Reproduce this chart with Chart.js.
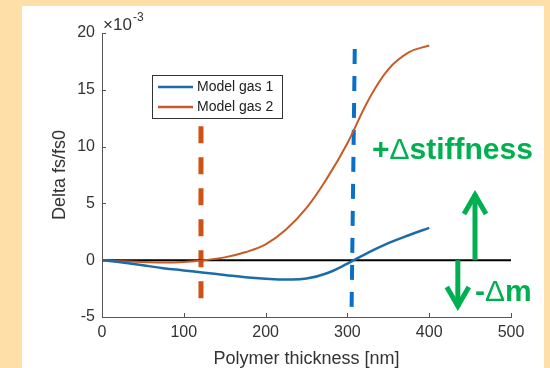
<!DOCTYPE html>
<html>
<head>
<meta charset="utf-8">
<script src="https://cdn.jsdelivr.net/npm/chart.js@4.4.1/dist/chart.umd.min.js"></script>
<style>
  html, body { margin: 0; padding: 0; background: #fedfa8; overflow: hidden; }
  #panel { position: absolute; left: 22px; top: 6px; width: 522px; height: 362px; background: #fff; }
  #wrap { position: absolute; left: 0; top: 0; width: 550px; height: 368px; }
</style>
</head>
<body>
<div id="panel"></div>
<div id="wrap"><canvas id="chart" width="550" height="368"></canvas></div>
<script>
// data (Delta fs/fs0 in units of 1e-3)
var thickness = [0, 25, 50, 75, 100, 125, 150, 175, 200, 225, 250, 275, 300, 325, 350, 375, 400];
var gas1 = [0, -0.2, -0.45, -0.7, -0.9, -1.1, -1.3, -1.5, -1.63, -1.7, -1.62, -1.15, -0.3, 0.65, 1.5, 2.2, 2.85];
var gas2 = [0, -0.1, -0.15, -0.2, -0.15, 0, 0.25, 0.7, 1.4, 2.7, 4.6, 7.2, 10.3, 14.0, 16.8, 18.3, 18.9];
var seriesNames = ["Model gas 1", "Model gas 2"];
var xTicks = [0, 100, 200, 300, 400, 500];
var yTicks = [-5, 0, 5, 10, 15, 20];

// marker lines (hand drawn on the slide)
var zeroLine = [{x: 0, y: 0}, {x: 500, y: 0}];
var orangeMark = [{x: 121, y: 11.8}, {x: 121, y: -4.2}];
var blueMark = [{x: 309, y: 18.6}, {x: 305, y: -5}];

// arrows + labels
var upArrow = {x: 456, from: 0, to: 6.0};
var downArrow = {x: 435, from: 0, to: -4.3};
var notes = [
  {parts: ["+", "\u0394", "stiffness"], x: 330, y: 8.9},
  {parts: ["-", "\u0394", "m"], x: 456, y: -3.6}
];

var GREEN = "#00b050";
var BLUE = "#1b6ca8";
var ORANGE = "#c85a26";
var FAMILY = "'Liberation Sans', Arial, sans-serif";

function toPoints(xs, ys) {
  return xs.map(function(x, i) { return {x: x, y: ys[i]}; });
}

var extras = {
  id: "extras",
  afterDraw: function(chart) {
    var ctx = chart.ctx;
    var xs = chart.scales.x, ys = chart.scales.y;
    var area = chart.chartArea;
    ctx.save();

    // inward tick marks, matlab style
    ctx.strokeStyle = "#555";
    ctx.lineWidth = 1;
    ctx.beginPath();
    xTicks.forEach(function(v) {
      var px = Math.round(xs.getPixelForValue(v)) + 0.5;
      ctx.moveTo(px, area.bottom);
      ctx.lineTo(px, area.bottom - 4);
    });
    yTicks.forEach(function(v) {
      var py = Math.round(ys.getPixelForValue(v)) + 0.5;
      ctx.moveTo(area.left, py);
      ctx.lineTo(area.left + 4, py);
    });
    ctx.stroke();

    // x10^-3
    ctx.fillStyle = "#333";
    ctx.textBaseline = "alphabetic";
    ctx.font = "17px " + FAMILY;
    ctx.fillText("\u00d710", area.left + 1, area.top - 3);
    ctx.font = "12px " + FAMILY;
    ctx.fillText("-3", area.left + 31, area.top - 12);

    // legend
    var lx = 152, ly = 75, lw = 130, lh = 43;
    ctx.fillStyle = "#fff";
    ctx.fillRect(lx, ly, lw, lh);
    ctx.strokeStyle = "#333";
    ctx.strokeRect(lx + 0.5, ly + 0.5, lw, lh);
    ctx.font = "14px " + FAMILY;
    ctx.textBaseline = "middle";
    seriesNames.forEach(function(n, i) {
      var ds = chart.data.datasets[i];
      var cy = ly + 12 + i * 20;
      ctx.strokeStyle = ds.borderColor;
      ctx.lineWidth = 2.5;
      ctx.beginPath();
      ctx.moveTo(lx + 6, cy);
      ctx.lineTo(lx + 41, cy);
      ctx.stroke();
      ctx.fillStyle = "#222";
      ctx.fillText(n, lx + 45, cy);
    });

    // green arrows
    function arrow(a) {
      var px = xs.getPixelForValue(a.x);
      var p0 = ys.getPixelForValue(a.from);
      var p1 = ys.getPixelForValue(a.to);
      var dir = p1 < p0 ? 1 : -1;
      ctx.strokeStyle = GREEN;
      ctx.lineWidth = 5;
      ctx.lineCap = "butt";
      ctx.lineJoin = "miter";
      ctx.beginPath();
      ctx.moveTo(px, p0);
      ctx.lineTo(px, p1 + dir * 2);
      ctx.stroke();
      ctx.beginPath();
      ctx.moveTo(px - 11, p1 + dir * 22);
      ctx.lineTo(px, p1 + dir * 3);
      ctx.lineTo(px + 11, p1 + dir * 22);
      ctx.stroke();
    }
    arrow(upArrow);
    arrow(downArrow);

    // green labels, delta in regular weight like the slide
    ctx.fillStyle = GREEN;
    ctx.textBaseline = "alphabetic";
    notes.forEach(function(n) {
      var px = xs.getPixelForValue(n.x);
      var py = ys.getPixelForValue(n.y);
      n.parts.forEach(function(p, i) {
        ctx.font = (i === 1 ? "" : "bold ") + "30px " + FAMILY;
        ctx.fillText(p, px, py);
        px += ctx.measureText(p).width;
      });
    });
    ctx.restore();
  }
};

var tickFont = {family: FAMILY, size: 16};
var titleFont = {family: FAMILY, size: 18, lineHeight: 1};

new Chart(document.getElementById("chart"), {
  type: "line",
  data: {
    datasets: [
      {label: seriesNames[0], data: toPoints(thickness, gas1), borderColor: BLUE, borderWidth: 2.5},
      {label: seriesNames[1], data: toPoints(thickness, gas2), borderColor: ORANGE, borderWidth: 2},
      {label: "zero", data: zeroLine, borderColor: "#000", borderWidth: 2, tension: 0},
      {label: "mark gas 2", data: orangeMark, borderColor: "#cf5214", borderWidth: 5, borderDash: [17, 14], tension: 0},
      {label: "mark gas 1", data: blueMark, borderColor: "#0a6fc8", borderWidth: 4, borderDash: [15, 12], tension: 0}
    ]
  },
  options: {
    responsive: false,
    animation: false,
    events: [],
    clip: false,
    layout: {padding: {left: 0, top: 33, right: 39, bottom: 0}},
    elements: {
      point: {radius: 0},
      line: {tension: 0.4, fill: false}
    },
    scales: {
      x: {
        type: "linear", min: 0, max: 500,
        afterBuildTicks: function(s) { s.ticks = xTicks.map(function(v) { return {value: v}; }); },
        afterFit: function(s) { s.height = 51; },
        ticks: {color: "#333", font: tickFont, padding: 6, maxRotation: 0},
        grid: {drawOnChartArea: false, drawTicks: false},
        border: {color: "#555", width: 1},
        title: {display: true, text: "Polymer thickness [nm]", color: "#333", font: titleFont, padding: {top: 1, bottom: 0}}
      },
      y: {
        type: "linear", min: -5, max: 20,
        afterBuildTicks: function(s) { s.ticks = yTicks.map(function(v) { return {value: v}; }); },
        afterFit: function(s) { s.width = 102; },
        ticks: {color: "#333", font: tickFont, padding: 7},
        grid: {drawOnChartArea: false, drawTicks: false},
        border: {color: "#555", width: 1},
        title: {display: true, text: "Delta fs/fs0", color: "#333", font: titleFont, padding: {top: 51, bottom: 0}}
      }
    },
    plugins: {
      legend: {display: false},
      tooltip: {enabled: false}
    }
  },
  plugins: [extras]
});
</script>
</body>
</html>
